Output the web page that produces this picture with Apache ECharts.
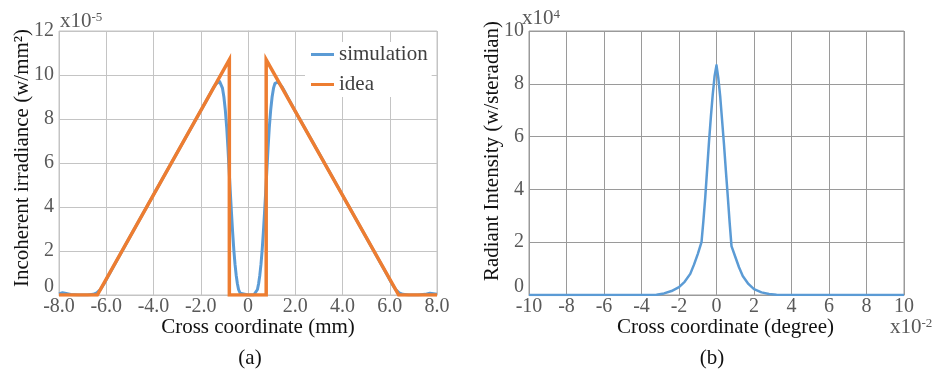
<!DOCTYPE html>
<html>
<head>
<meta charset="utf-8">
<script src="https://cdn.jsdelivr.net/npm/echarts@6/dist/echarts.min.js"></script>
<style>
    html, body { margin: 0; padding: 0; background: #fff; }
    #chart { width: 934px; height: 370px; }
</style>
</head>
<body>
<div id="chart"></div>
<script>
// 图(a)：横坐标 mm，纵坐标 x10^-5 w/mm²
const simX = [-8.0, -7.85, -7.7, -7.5, -7.2, -6.8, -6.55, -6.4, -6.25, -6.1, -5.9, -5.0, -4.0, -3.0, -2.0, -1.7, -1.55, -1.45, -1.35, -1.27, -1.2, -1.14, -1.08, -1.02, -0.96, -0.9, -0.85, -0.8, -0.75, -0.7, -0.65, -0.6, -0.55, -0.5, -0.45, -0.4, -0.33, -0.25,
    0, 0.25, 0.33, 0.4, 0.45, 0.5, 0.55, 0.6, 0.65, 0.7, 0.75, 0.8, 0.85, 0.9, 0.96, 1.02, 1.08, 1.14, 1.2, 1.27, 1.35, 1.45, 1.55, 1.7, 2.0, 3.0, 4.0, 5.0, 5.9, 6.1, 6.25, 6.4, 6.55, 6.8, 7.2, 7.5, 7.7, 7.85, 8.0];
const simY = [0.05, 0.1, 0.07, 0.02, 0.0, 0.0, 0.03, 0.1, 0.25, 0.5, 0.9, 2.64, 4.56, 6.47, 8.38, 8.95, 9.25, 9.45, 9.6, 9.68, 9.7, 9.62, 9.4, 9.0, 8.4, 7.6, 6.7, 5.7, 4.7, 3.75, 2.85, 2.05, 1.4, 0.9, 0.52, 0.25, 0.08, 0.01,
    0, 0.01, 0.08, 0.25, 0.52, 0.9, 1.4, 2.05, 2.85, 3.75, 4.7, 5.7, 6.7, 7.6, 8.4, 9.0, 9.4, 9.62, 9.7, 9.68, 9.6, 9.45, 9.25, 8.95, 8.35, 6.45, 4.54, 2.63, 0.9, 0.5, 0.25, 0.1, 0.03, 0.0, 0.0, 0.03, 0.08, 0.06, 0.04];

const ideaX = [-8.0, -6.38, -0.79, -0.79, 0.77, 0.77, 6.38, 8.0];
const ideaY = [0, 0, 10.7, 0, 0, 10.7, 0, 0];

// 图(b)：横坐标 x10^-2 degree，纵坐标 x10^4 w/steradian
const radX = [-10, -3.2, -2.8, -2.4, -2.0, -1.7, -1.4, -1.2, -1.0, -0.8, -0.7, -0.6, -0.5, -0.4, -0.3, -0.2, -0.1, 0,
    0.1, 0.2, 0.3, 0.4, 0.5, 0.6, 0.7, 0.8, 1.0, 1.2, 1.4, 1.7, 2.0, 2.4, 2.8, 3.2, 10];
const radY = [0, 0.01, 0.06, 0.15, 0.3, 0.5, 0.8, 1.15, 1.55, 2.0, 2.8, 3.7, 4.75, 5.8, 6.75, 7.6, 8.3, 8.7,
    8.2, 7.5, 6.6, 5.7, 4.7, 3.75, 2.75, 1.85, 1.45, 1.05, 0.72, 0.42, 0.22, 0.1, 0.04, 0.01, 0];

const BLUE = '#5b9bd5';
const ORANGE = '#ed7d31';
const FONT = 'Liberation Serif';

function pairs(xs, ys) {
    let out = [];
    for (let i = 0; i < xs.length; i++) {
        out.push([xs[i], ys[i]]);
    }
    return out;
}

// 0 刻度标签略微上移
const zeroRich = {
    z: { padding: [0, 0, 16, 0], fontSize: 20, color: '#595959', fontFamily: FONT }
};

function xAxisOf(grid, min, max, name, formatter, gridColor, shiftRight) {
    return {
        gridIndex: grid,
        type: 'value',
        min: min,
        max: max,
        interval: 2,
        name: name,
        nameLocation: 'middle',
        nameGap: 22,
        nameMoveOverlap: false,
        nameTextStyle: { fontSize: 21, color: '#111', fontFamily: FONT, padding: [0, 0, 0, shiftRight] },
        axisLine: { lineStyle: { color: gridColor } },
        axisTick: { show: false },
        axisLabel: { fontSize: 20, color: '#595959', fontFamily: FONT, margin: 2, formatter: formatter, showMinLabel: true, showMaxLabel: true },
        splitLine: { show: true, lineStyle: { color: gridColor } }
    };
}

function yAxisOf(grid, max, name, gridColor, nameGap, shiftUp) {
    return {
        gridIndex: grid,
        type: 'value',
        min: 0,
        max: max,
        interval: 2,
        name: name,
        nameLocation: 'middle',
        nameGap: nameGap,
        nameMoveOverlap: false,
        nameTextStyle: { fontSize: 21, color: '#111', fontFamily: FONT, padding: [0, 0, 0, shiftUp] },
        axisLine: { show: true, lineStyle: { color: gridColor } },
        axisTick: { show: false },
        axisLabel: {
            fontSize: 20, color: '#595959', fontFamily: FONT, margin: 5,
            formatter: function (v) { return v === 0 ? '{z|0}' : String(v); },
            rich: zeroRich
        },
        splitLine: { show: true, lineStyle: { color: gridColor } }
    };
}

function powerText(x, y, base, exp) {
    return {
        type: 'text',
        x: x,
        y: y,
        style: {
            text: '{a|' + base + '}{b|' + exp + '}',
            rich: {
                a: { fontSize: 21, lineHeight: 21, fontFamily: FONT, fill: '#595959' },
                b: { fontSize: 13, lineHeight: 21, fontFamily: FONT, fill: '#595959', verticalAlign: 'top' }
            },
            verticalAlign: 'top'
        }
    };
}

const chart = echarts.init(document.getElementById('chart'), null, { renderer: 'canvas' });

chart.setOption({
    animation: false,
    backgroundColor: '#fff',
    textStyle: { fontFamily: FONT },
    grid: [
        { left: 59, top: 31, width: 378, height: 264, show: true, borderColor: '#c4c4c4', borderWidth: 1 },
        { left: 529, top: 31, width: 375, height: 264, show: true, borderColor: '#9a9a9a', borderWidth: 1 }
    ],
    xAxis: [
        xAxisOf(0, -8, 8, 'Cross coordinate (mm)', function (v) { return v === 0 ? '0' : v.toFixed(1); }, '#c4c4c4', 20),
        xAxisOf(1, -10, 10, 'Cross coordinate (degree)', function (v) { return String(v); }, '#9a9a9a', 18)
    ],
    yAxis: [
        yAxisOf(0, 12, 'Incoherent irradiance (w/mm²)', '#c4c4c4', 26, 10),
        yAxisOf(1, 10, 'Radiant Intensity (w/steradian)', '#9a9a9a', 26, 24)
    ],
    legend: {
        left: 305,
        top: 42,
        orient: 'vertical',
        backgroundColor: '#fff',
        padding: [2, 4, 2, 6],
        itemWidth: 23,
        itemHeight: 3,
        itemGap: 9,
        icon: 'rect',
        data: ['simulation', 'idea'],
        textStyle: { fontSize: 21, color: '#404040', fontFamily: FONT }
    },
    series: [
        {
            name: 'simulation',
            type: 'line',
            xAxisIndex: 0,
            yAxisIndex: 0,
            data: pairs(simX, simY),
            showSymbol: false,
            lineStyle: { color: BLUE, width: 3, join: 'round' },
            itemStyle: { color: BLUE }
        },
        {
            name: 'idea',
            type: 'line',
            xAxisIndex: 0,
            yAxisIndex: 0,
            data: pairs(ideaX, ideaY),
            showSymbol: false,
            lineStyle: { color: ORANGE, width: 3.5, join: 'miter' },
            itemStyle: { color: ORANGE }
        },
        {
            name: 'radiant',
            type: 'line',
            xAxisIndex: 1,
            yAxisIndex: 1,
            data: pairs(radX, radY),
            showSymbol: false,
            lineStyle: { color: BLUE, width: 2.5, join: 'round' },
            itemStyle: { color: BLUE }
        }
    ],
    graphic: [
        powerText(60, 11, 'x10', '-5'),
        powerText(522, 8, 'x10', '4'),
        powerText(890, 317, 'x10', '-2'),
        {
            type: 'text', x: 250, y: 358,
            style: { text: '(a)', fontSize: 21, fontFamily: FONT, fill: '#111', align: 'center', verticalAlign: 'middle' }
        },
        {
            type: 'text', x: 712, y: 358,
            style: { text: '(b)', fontSize: 21, fontFamily: FONT, fill: '#111', align: 'center', verticalAlign: 'middle' }
        }
    ]
});
</script>
</body>
</html>
